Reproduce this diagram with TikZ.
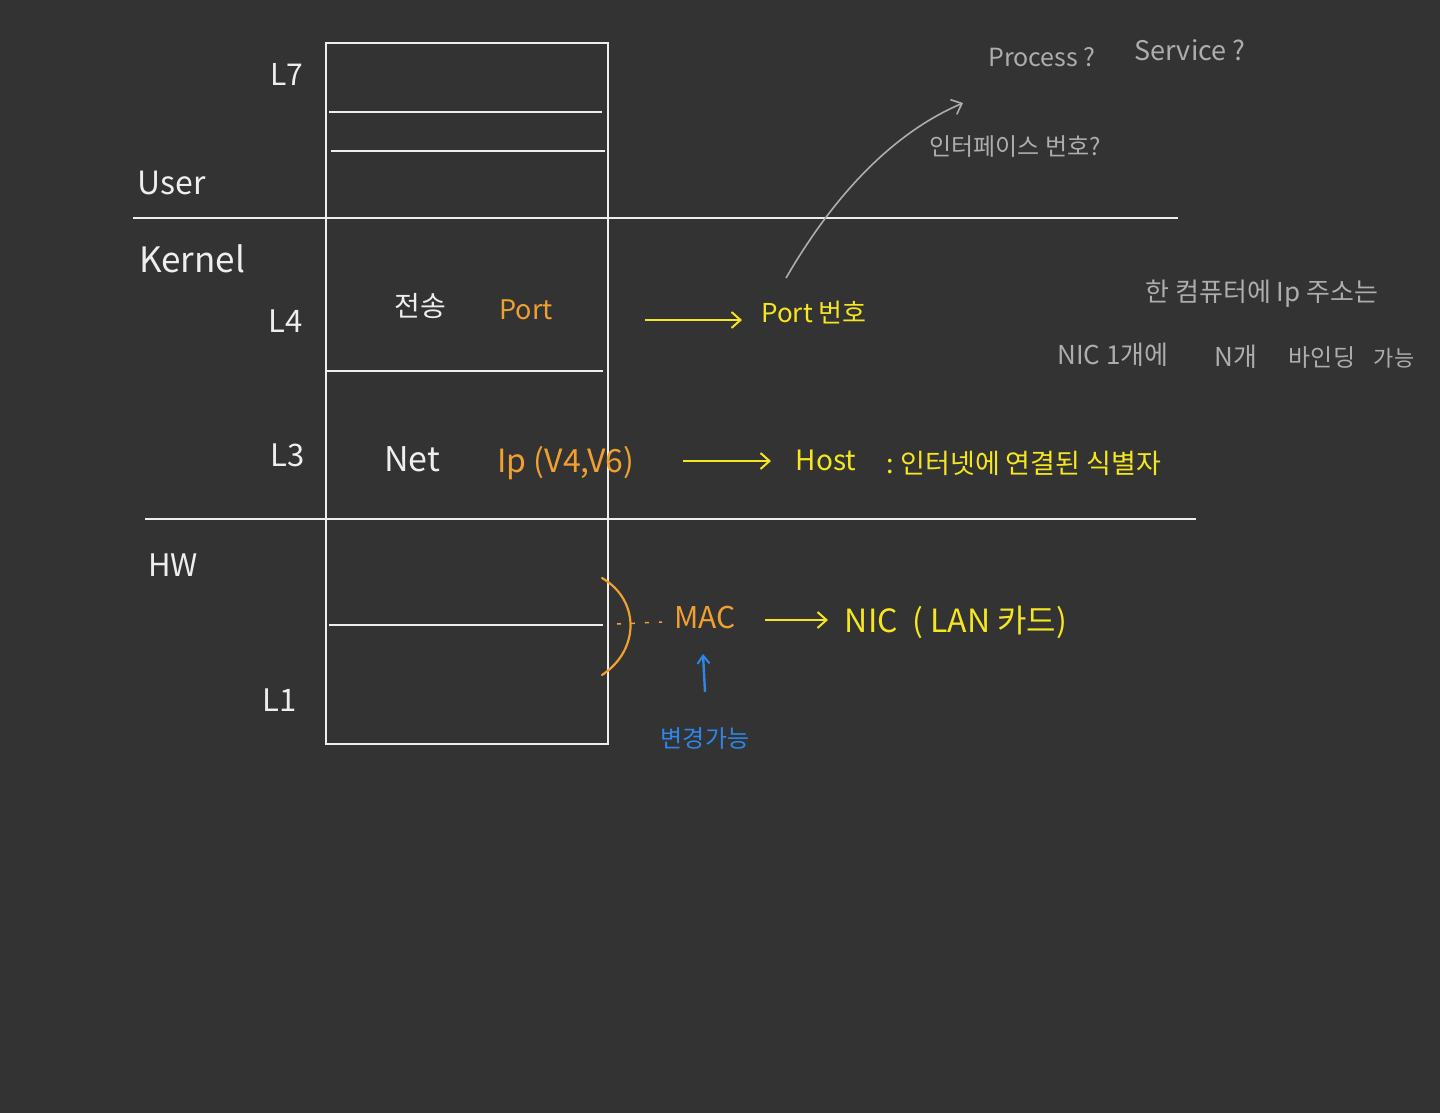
\documentclass[tikz,border=0pt]{standalone}
\usepackage{fontspec}
\newfontfamily\kr{Noto Sans CJK KR}
\usetikzlibrary{arrows.meta}
\definecolor{bgc}{HTML}{333333}
\definecolor{wh}{HTML}{EEEEEE}
\definecolor{gy}{HTML}{ADADAD}
\definecolor{og}{HTML}{F0A030}
\definecolor{yl}{HTML}{F5E620}
\definecolor{bl}{HTML}{2E86E8}
\tikzset{
  fs/.style={font=\kr\fontsize{#1}{#1}\selectfont, inner sep=0pt},
  frame/.style={draw=wh, line width=1.6pt},
  yarrow/.style={draw=yl, line width=2pt, -{Straight Barb[length=9,width=16,line width=2pt]}},
  tw/.style={text=wh},
  tg/.style={text=gy},
  to/.style={text=og},
  ty/.style={text=yl},
  tb/.style={text=bl},
}
\begin{document}
\begin{tikzpicture}[x=1pt,y=-1pt]
\useasboundingbox[fill=bgc] (0,0) rectangle (1440,1113);
% stack box
\draw[frame] (326,43) rectangle (608,744);
\draw[frame] (329,112) -- (602,112);
\draw[frame] (331,151) -- (605,151);
\draw[frame] (327,371) -- (603,371);
\draw[frame] (329,625) -- (603,625);
% boundaries
\draw[frame] (133,218) -- (1178,218);
\draw[frame] (145,519) -- (1196,519);
% left labels
\node[fs=30,tw] (l7) at (287,75) {L7};
\node[fs=32,tw] (user) at (172,183) {User};
\node[fs=35,tw] (kernel) at (192,259) {Kernel};
\node[fs=31,tw] (l4) at (286,321) {L4};
\node[fs=31,tw] (l3) at (288,455) {L3};
\node[fs=31,tw] (hw) at (173,565) {HW};
\node[fs=31,tw] (l1) at (280,700) {L1};
% L4 row
\node[fs=28,tw] (tr) at (420,306) {전송};
\node[fs=27,to] (port) at (526,310) {Port};
\coordinate (a1s) at (645,320);
\coordinate (a1e) at (742,320);
\draw[yarrow] (a1s) -- (a1e);
\node[fs=26,ty] (portnum) at (814,313) {Port 번호};
% L3 row
\node[fs=34,tw] (net) at (412,459) {Net};
\node[fs=32,to] (ip) at (566,463) {Ip (V4,V6)};
\coordinate (a2s) at (683,461);
\coordinate (a2e) at (771,461);
\draw[yarrow] (a2s) -- (a2e);
\node[fs=28,ty] (host) at (826,460) {Host};
\node[fs=27,ty] (hostdesc) at (1024,463) {:\ 인터넷에 연결된 식별자};
% HW row
\coordinate (brt) at (602,578);
\coordinate (brb) at (602,675);
\draw[draw=og, line width=2.2pt, line cap=round] (brt) .. controls (640,600) and (640,650) .. (brb);
\node[fs=30,to] (mac) at (705,617) {MAC};
\coordinate (brm) at (617,624);
\coordinate (dend) at (662,622);
\draw[draw=og, line width=1.5pt, dash pattern=on 4pt off 10pt] (brm) -- (dend);
\coordinate (a3s) at (765,620);
\coordinate (a3e) at (828,620);
\draw[yarrow] (a3s) -- (a3e);
\node[fs=32,ty] (nic) at (956,622) {NIC\ \ ( LAN 카드)};
\node[fs=24,tb] (chg) at (705,738) {변경가능};
\coordinate (b1s) at (705,692);
\coordinate (b1e) at (703,654);
\draw[draw=bl, line width=2.4pt, -{Straight Barb[length=8,width=12,line width=2pt]}] (b1s) -- (b1e);
% grey notes
\node[fs=25,tg] (proc) at (1042,57) {Process ?};
\node[fs=27,tg] (serv) at (1190,50) {Service ?};
\node[fs=24,tg] (iface) at (1015,147) {인터페이스 번호?};
\coordinate (g1s) at (786,278);
\coordinate (g1e) at (963,103);
\draw[draw=gy, line width=1.6pt, -{Straight Barb[length=9,width=16,line width=1.6pt]}] (g1s) .. controls (840,185) and (900,130) .. (g1e);
\node[fs=26,tg] (n1) at (1262,294) {한 컴퓨터에 Ip 주소는};
\node[fs=26,tg] (n2) at (1113,355) {NIC 1개에};
\node[fs=26,tg] (n3) at (1236,357) {N개};
\node[fs=24,tg] (n4) at (1322,358) {바인딩};
\node[fs=22,tg] (n5) at (1394,358) {가능};
\end{tikzpicture}
\end{document}
